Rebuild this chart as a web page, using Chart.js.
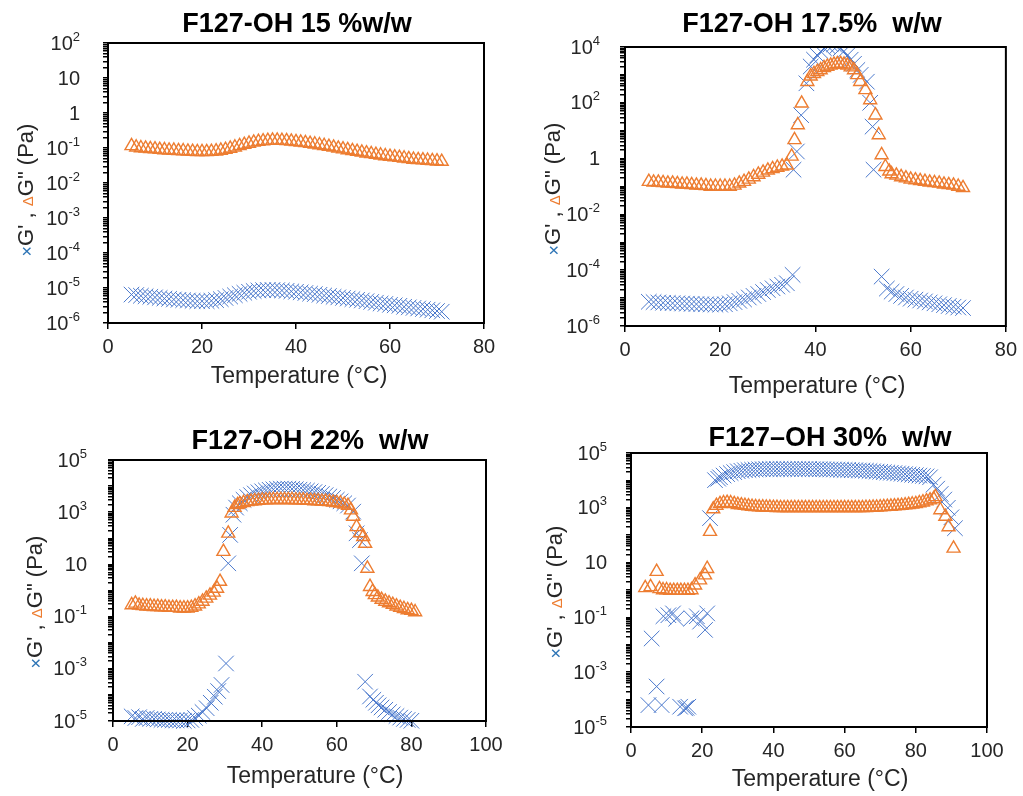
<!DOCTYPE html>
<html>
<head>
<meta charset="utf-8">
<title>F127-OH</title>
<script src="https://cdn.jsdelivr.net/npm/chart.js@4.4.1/dist/chart.umd.min.js"></script>
<style>
  body { margin: 0; background: #fff; width: 1023px; height: 796px; position: relative; overflow: hidden; }
  canvas { position: absolute; }
</style>
</head>
<body>
<canvas id="c15" width="512" height="398" style="left:0;top:0"></canvas>
<canvas id="c175" width="511" height="398" style="left:512px;top:0"></canvas>
<canvas id="c22" width="512" height="396" style="left:0;top:400px"></canvas>
<canvas id="c30" width="511" height="396" style="left:512px;top:400px"></canvas>
<script>
// Данные: температура (°C), G' и G'' (Pa)
// 15 %w/w
const t15 = [5,6,7,8,9,10,11,12,13,14,15,16,17,18,19,20,21,22,23,24,25,26,27,28,29,30,31,32,33,34,35,36,37,38,39,40,41,42,43,44,45,46,47,48,49,50,51,52,53,54,55,56,57,58,59,60,61,62,63,64,65,66,67,68,69,70,71];
const gp15 = [6.5e-6,6.3e-6,6.0e-6,5.8e-6,5.6e-6,5.4e-6,5.2e-6,5.0e-6,4.9e-6,4.7e-6,
  4.6e-6,4.5e-6,4.4e-6,4.3e-6,4.2e-6,4.2e-6,4.2e-6,4.3e-6,4.5e-6,4.8e-6,
  5.2e-6,5.7e-6,6.2e-6,6.8e-6,7.3e-6,7.8e-6,8.2e-6,8.5e-6,8.7e-6,8.8e-6,
  8.8e-6,8.7e-6,8.5e-6,8.3e-6,8.0e-6,7.8e-6,7.5e-6,7.2e-6,6.9e-6,6.7e-6,
  6.4e-6,6.1e-6,5.9e-6,5.6e-6,5.4e-6,5.2e-6,5.0e-6,4.8e-6,4.6e-6,4.4e-6,
  4.2e-6,4.0e-6,3.8e-6,3.6e-6,3.5e-6,3.3e-6,3.2e-6,3.1e-6,2.9e-6,2.8e-6,
  2.7e-6,2.6e-6,2.5e-6,2.4e-6,2.3e-6,2.2e-6,2.1e-6];
const gpp15 = [0.115,0.105,0.1,0.098,0.095,0.093,0.09,0.088,0.086,0.085,
  0.083,0.082,0.08,0.079,0.078,0.078,0.078,0.079,0.081,0.085,
  0.09,0.097,0.105,0.115,0.125,0.135,0.145,0.152,0.158,0.162,
  0.165,0.165,0.163,0.16,0.155,0.15,0.145,0.14,0.134,0.128,
  0.122,0.116,0.11,0.104,0.098,0.093,0.088,0.083,0.079,0.075,
  0.071,0.068,0.065,0.062,0.059,0.057,0.055,0.053,0.051,0.049,
  0.047,0.046,0.045,0.044,0.043,0.042,0.041];

// 17.5% w/w
const t175a = [5,6,7,8,9,10,11,12,13,14,15,16,17,18,19,20,21,22,23,24,25,26,27,28,29,30,31,32,33,34,
  35.2,35.4,36.1,37,38.1,39,39.7,40.4,41.1,41.8,42.5,43.2,43.9,44.6,45.3,46,46.7,47.4,48.1,48.8,49.5,50.8,51.5,52,52.2,
  53.9,55,56,57,58,59,60,61,62,63,64,65,66,67,68,69,70,71];
const gp175 = [7.4e-6,7.2e-6,7e-6,6.8e-6,6.7e-6,6.6e-6,6.5e-6,6.4e-6,6.3e-6,6.2e-6,
  6.1e-6,6e-6,6e-6,5.9e-6,5.8e-6,5.8e-6,6e-6,6.5e-6,7.2e-6,8e-6,
  9e-6,1.05e-5,1.2e-5,1.4e-5,1.65e-5,1.95e-5,2.25e-5,2.6e-5,3e-5,3.4e-5,
  6.8e-5,0.4,1.8,36,500,2000,3500,5000,7000,9000,11000,12500,12500,11000,9000,7000,5000,3500,2500,1500,1000,570,100,14,0.4,
  5.9e-5,2.2e-5,1.7e-5,1.4e-5,1.2e-5,1.05e-5,9.5e-6,8.8e-6,8.2e-6,7.6e-6,7e-6,6.5e-6,6e-6,5.6e-6,5.2e-6,4.9e-6,4.6e-6,4.4e-6];
const t175b = [5,6,7,8,9,10,11,12,13,14,15,16,17,18,19,20,21,22,23,24,25,26,27,28,29,30,31,32,33,34,
  35,35.6,36.3,37.1,38.3,39,39.7,40.4,41.1,41.8,42.5,43.2,43.9,44.6,45.3,46,46.7,47.4,48.1,48.8,49.4,50.5,51.5,52.6,53.3,53.9,54.7,55.5,
  56,57,58,59,60,61,62,63,64,65,66,67,68,69,70,71];
const gpp175 = [0.15,0.14,0.14,0.135,0.13,0.13,0.125,0.12,0.12,0.115,
  0.11,0.11,0.105,0.1,0.1,0.1,0.1,0.1,0.11,0.13,
  0.15,0.18,0.22,0.27,0.32,0.38,0.43,0.48,0.53,0.58,
  1.2,4.7,16,96,570,900,1100,1300,1500,1800,2000,2200,2400,2500,2500,2400,2200,1900,1500,1000,570,290,126,36,7,1.35,0.51,0.35,
  0.28,0.25,0.22,0.2,0.18,0.17,0.16,0.15,0.14,0.135,0.13,0.12,0.115,0.11,0.1,0.09];

// 22% w/w
const t22a = [5,6,7,8,9,10,11,12,13,14,15,16,17,18,19,20,21,22,23,24,
  25.1,26.2,27.3,28.2,29.1,30.3,30.9,31.4,32.3,
  33,34,35,36,37,38,39,40,41,42,43,44,45,46,47,48,49,50,51,52,53,54,55,56,57,58,59,60,61,62,63,
  64.4,65.3,66.2,66.7,67.6,68.9,69.8,70.5,71.2,
  72,73,74,75,76,77,78,79,80];
const gp22 = [1.5e-5,1.3e-5,1.4e-5,1.2e-5,1.3e-5,1.2e-5,1.2e-5,1.15e-5,1.1e-5,1.1e-5,
  1.1e-5,1.05e-5,1.05e-5,1.05e-5,1e-5,1.05e-5,1.1e-5,1.3e-5,1.6e-5,2.2e-5,
  3.1e-5,5e-5,8.5e-5,1.4e-4,2.4e-4,1.6e-3,11,135,800,
  1500,2200,3000,3800,4500,5200,5800,6300,6800,7200,7500,7800,8000,8000,8000,7800,7600,7300,7000,6700,
  6300,5900,5500,5000,4500,4000,3500,3000,2600,2200,1800,
  1050,155,85,11,3.2e-4,8.7e-5,6.5e-5,5e-5,4e-5,
  3.3e-5,2.7e-5,2.2e-5,1.8e-5,1.55e-5,1.35e-5,1.2e-5,1.1e-5,1.02e-5];
const t22b = [5,6,7,8,9,10,11,12,13,14,15,16,17,18,19,20,21,22,23,24,25,26,27,
  27.9,28.7,29.6,30.9,31.8,32.6,33.4,
  34,35,36,37,38,39,40,41,42,43,44,45,46,47,48,49,50,51,52,53,54,55,56,57,58,59,60,61,62,63,
  63.8,64.4,65.3,66.2,67.1,67.6,68.2,68.9,69.6,70.2,
  71,72,73,74,75,76,77,78,79,80,81];
const gpp22 = [0.28,0.32,0.27,0.26,0.25,0.25,0.24,0.24,0.23,0.23,
  0.22,0.22,0.22,0.21,0.21,0.21,0.22,0.25,0.3,0.38,0.5,0.65,0.85,
  1.2,2.2,31,155,910,1500,1900,
  2100,2300,2500,2600,2700,2800,2900,2900,3000,3000,3000,3000,3000,3000,3000,2900,2900,2900,2800,2800,
  2700,2700,2600,2600,2500,2400,2300,2200,2000,1800,
  1200,680,275,160,115,63,7,1.4,0.9,0.68,
  0.55,0.45,0.38,0.33,0.29,0.25,0.22,0.2,0.18,0.17,0.15];

// 30% w/w
const t30a = [4.9,5.8,7.2,8.6,9.1,10.5,11.8,12.7,13.8,15.2,15.6,16.1,17,18.5,19.4,20.8,21.4,22.2,23.6,24.5,
  25,26,27,28,29,30,31,32,33,34,35,36,37,38,39,40,41,42,43,44,45,46,47,48,49,50,51,52,53,54,
  55,56,57,58,59,60,61,62,63,64,65,66,67,68,69,70,71,72,73,74,75,76,77,78,79,80,81,82,83,84,
  85,86,87,88,89,90,91];
const gp30 = [6.3e-5,0.017,3e-4,6.3e-5,0.11,0.12,0.14,0.09,5.5e-5,4.8e-5,5e-5,5.5e-5,0.093,0.11,0.07,0.035,0.14,420,10200,11500,
  13000,15000,17000,18500,20000,21500,22500,23500,24000,24500,
  25000,25500,25500,26000,26000,26000,26000,26000,26000,26000,
  26000,26000,26000,26000,26000,26000,25500,25500,25500,25500,
  25000,25000,25000,24500,24500,24000,24000,23500,23500,23000,
  23000,22500,22000,21500,21000,20500,20000,19500,19000,18500,
  18000,17500,17000,16500,16000,15500,15000,14500,14000,13000,
  7000,5000,3200,2000,1000,450,180];
const t30b = [4,5.5,7.2,8,9,10,11,12,13,14,15,16,17,18,19.4,20.8,21.4,22.2,23.1,
  24,25,26,27,28,29,30,31,32,33,34,35,36,37,38,39,40,41,42,43,44,45,46,47,48,49,50,51,52,53,
  54,55,56,57,58,59,60,61,62,63,64,65,66,67,68,69,70,71,72,73,74,75,76,77,78,79,80,81,82,83,84,85,
  85.5,86.9,88.3,89.2,90.6];
const gpp30 = [1.2,1.3,4.7,1.1,1.0,1.0,0.95,0.95,0.95,0.95,0.95,0.95,1.0,1.5,2.3,3.5,6,135,900,
  1200,1400,1500,1550,1500,1400,1300,1250,1200,1150,
  1100,1080,1060,1050,1040,1030,1020,1010,1000,1000,
  1000,1000,1000,1000,1000,1000,1000,1000,1000,1000,
  1000,1000,1000,1000,1000,1000,1000,1000,1000,1000,
  1000,1000,1010,1020,1030,1040,1060,1080,1100,1120,
  1150,1180,1200,1250,1300,1350,1400,1500,1600,1750,
  1900,2100,
  2500,830,480,200,33];

const FONT = '"Liberation Sans", Arial, sans-serif';
const BLUE = '#4a78cc';
const ORANGE = '#ED7D31';
const INK = '#262626';

// Степень десяти для подписи (или null, если это не основное деление)
function majorExp(v, eMax, step) {
  const e = Math.round(Math.log10(v));
  if (Math.abs(v / Math.pow(10, e) - 1) > 1e-6) return null;
  if ((eMax - e) % step !== 0) return null;
  return e;
}

// Рисуем рамку, подписи делений оси Y (10 в степени) и все заголовки
const panelText = {
  id: 'panelText',
  afterDraw(chart, args, o) {
    const ctx = chart.ctx, a = chart.chartArea, ys = chart.scales.y;
    ctx.save();
    ctx.strokeStyle = '#000';
    ctx.lineWidth = 2;
    ctx.strokeRect(a.left, a.top, a.right - a.left, a.bottom - a.top);

    // подписи оси Y
    const xr = a.left - 5 - o.yPad;
    ctx.fillStyle = INK;
    ctx.textAlign = 'right';
    ctx.textBaseline = 'middle';
    ys.ticks.forEach((tk, i) => {
      const e = majorExp(tk.value, o.eMax, o.yStep);
      if (e === null) return;
      const y = ys.getPixelForTick(i);
      if (e === 0 || e === 1) {
        ctx.font = '20px ' + FONT;
        ctx.fillText(e === 0 ? '1' : '10', xr, y + 1);
        return;
      }
      const sup = e < 0 ? '-' + Math.abs(e) : String(e);
      ctx.font = '13px ' + FONT;
      const w = ctx.measureText(sup).width;
      ctx.fillText(sup, xr, y - 6);
      ctx.font = '20px ' + FONT;
      ctx.fillText('10', xr - w, y + 1);
    });

    ctx.textAlign = 'center';
    ctx.fillStyle = '#000';
    ctx.font = 'bold 27px ' + FONT;
    ctx.fillText(o.title, o.titlePos[0], o.titlePos[1]);
    ctx.fillStyle = INK;
    ctx.font = '23px ' + FONT;
    ctx.fillText('Temperature (°C)', o.xTitlePos[0], o.xTitlePos[1]);

    // Подпись оси Y с цветными значками
    const parts = [
      {t: '×', c: '#2E75B6', f: '18px ' + FONT},
      {t: "G' , ", c: INK, f: '22px ' + FONT},
      {t: 'Δ', c: ORANGE, f: '15px ' + FONT},
      {t: 'G" (Pa)', c: INK, f: '22px ' + FONT}
    ];
    let total = 0;
    parts.forEach(p => { ctx.font = p.f; p.w = ctx.measureText(p.t).width; total += p.w; });
    ctx.translate(o.yTitlePos[0], o.yTitlePos[1]);
    ctx.rotate(-Math.PI / 2);
    ctx.textAlign = 'left';
    ctx.textBaseline = 'alphabetic';
    let x = -total / 2;
    parts.forEach(p => {
      ctx.font = p.f;
      ctx.fillStyle = p.c;
      ctx.fillText(p.t, x, 8);
      x += p.w;
    });
    ctx.restore();
  }
};

const makePanel = (id, cfg) => {
  const canvas = document.getElementById(id);
  const W = canvas.width, H = canvas.height;
  const eMin = Math.round(Math.log10(cfg.yMin)), eMax = Math.round(Math.log10(cfg.yMax));
  return new Chart(canvas, {
    type: 'scatter',
    data: {
      datasets: [{
        label: "G''",
        data: cfg.tG2.map((t, i) => ({x: t, y: cfg.g2[i]})),
        showLine: false,
        pointStyle: 'triangle',
        pointRadius: 7.5,
        pointBorderWidth: 1.4,
        pointBorderColor: ORANGE,
        pointBackgroundColor: 'rgba(0,0,0,0)',
        borderColor: ORANGE,
        backgroundColor: 'rgba(0,0,0,0)',
        clip: {left: 12, right: 12, top: 0, bottom: 10}
      }, {
        label: "G'",
        data: cfg.tG1.map((t, i) => ({x: t, y: cfg.g1[i]})),
        showLine: false,
        pointStyle: 'crossRot',
        pointRadius: 11,
        pointBorderWidth: 1,
        pointBorderColor: BLUE,
        pointBackgroundColor: 'rgba(0,0,0,0)',
        borderColor: BLUE,
        backgroundColor: 'rgba(0,0,0,0)',
        clip: {left: 12, right: 12, top: 0, bottom: 10}
      }]
    },
    options: {
      responsive: false,
      animation: false,
      events: [],
      layout: {padding: {left: 0, top: cfg.area.t, right: W - cfg.area.r, bottom: 0}},
      plugins: {
        legend: {display: false},
        tooltip: {enabled: false},
        panelText: {
          title: cfg.title, titlePos: cfg.titlePos, xTitlePos: cfg.xTitlePos, yTitlePos: cfg.yTitlePos,
          yPad: cfg.yPad, yStep: cfg.yStep, eMax: eMax
        }
      },
      scales: {
        x: {
          type: 'linear',
          min: 0,
          max: cfg.xMax,
          afterFit: s => { s.height = H - cfg.area.b; },
          ticks: {stepSize: 20, color: INK, font: {family: FONT, size: 20}, padding: 6},
          grid: {drawOnChartArea: false, color: '#000', lineWidth: 1.5, tickLength: 6},
          border: {display: false}
        },
        y: {
          type: 'logarithmic',
          min: cfg.yMin,
          max: cfg.yMax,
          afterFit: s => { s.width = cfg.area.l; },
          afterBuildTicks: s => {
            const ticks = [];
            for (let e = eMin; e < eMax; e++) {
              for (let m = 1; m < 10; m++) ticks.push({value: parseFloat((m * Math.pow(10, e)).toPrecision(3))});
            }
            ticks.push({value: cfg.yMax});
            s.ticks = ticks;
          },
          ticks: {display: false, autoSkip: false},
          grid: {drawOnChartArea: false, color: '#000', lineWidth: 1.5, tickLength: 5},
          border: {display: false}
        }
      }
    },
    plugins: [panelText]
  });
};

makePanel('c15', {
  title: 'F127-OH 15 %w/w', titlePos: [297, 25], xTitlePos: [299, 377], yTitlePos: [25, 190],
  area: {l: 108, r: 484, t: 43, b: 323}, xMax: 80, yMin: 1e-6, yMax: 1e2, yStep: 1, yPad: 23,
  tG1: t15, g1: gp15, tG2: t15, g2: gpp15
});
makePanel('c175', {
  title: 'F127-OH 17.5%  w/w', titlePos: [300, 25], xTitlePos: [305, 387], yTitlePos: [40, 189],
  area: {l: 113, r: 494, t: 47, b: 326}, xMax: 80, yMin: 1e-6, yMax: 1e4, yStep: 2, yPad: 20,
  tG1: t175a, g1: gp175, tG2: t175b, g2: gpp175
});
makePanel('c22', {
  title: 'F127-OH 22%  w/w', titlePos: [310, 42], xTitlePos: [315, 377], yTitlePos: [34, 202],
  area: {l: 113, r: 486, t: 60, b: 321}, xMax: 100, yMin: 1e-5, yMax: 1e5, yStep: 2, yPad: 21,
  tG1: t22a, g1: gp22, tG2: t22b, g2: gpp22
});
makePanel('c30', {
  title: 'F127–OH 30%  w/w', titlePos: [318, 39], xTitlePos: [308, 380], yTitlePos: [42, 192],
  area: {l: 119, r: 475, t: 53, b: 327}, xMax: 100, yMin: 1e-5, yMax: 1e5, yStep: 2, yPad: 19,
  tG1: t30a, g1: gp30, tG2: t30b, g2: gpp30
});
</script>
</body>
</html>
